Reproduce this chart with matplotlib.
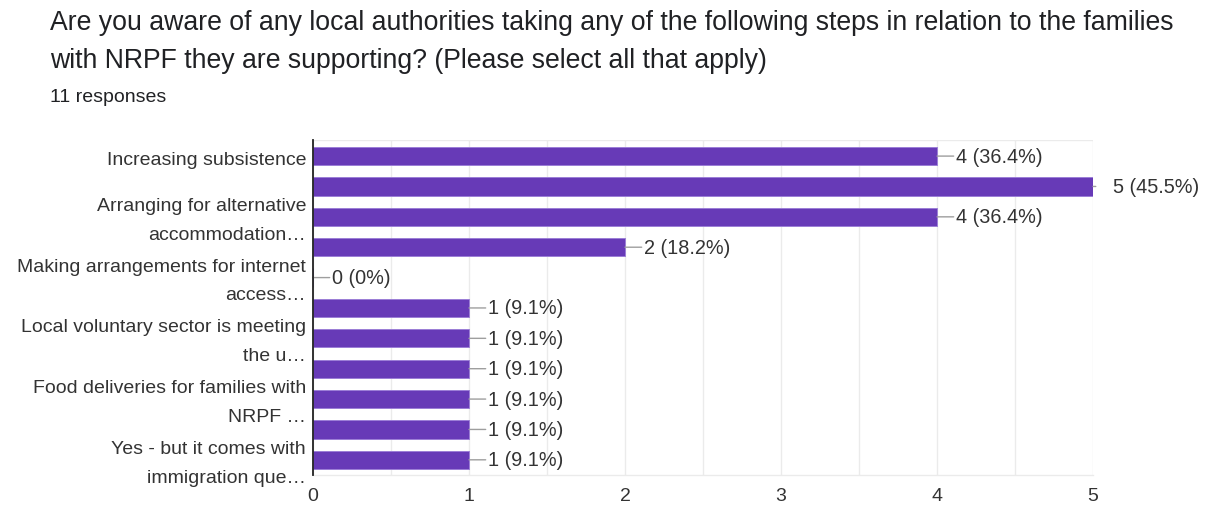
import matplotlib
matplotlib.use("Agg")
import matplotlib.pyplot as plt
import matplotlib.transforms as mtransforms
from matplotlib.ticker import MultipleLocator

plt.rcParams['font.family'] = ['Liberation Sans', 'DejaVu Sans']

title = ("Are you aware of any local authorities taking any of the following steps in relation to the families\n"
         "with NRPF they are supporting? (Please select all that apply)")
subtitle = "11 responses"
total = 11

categories = [
    "Increasing subsistence",
    "",
    "Arranging for alternative\naccommodation…",
    "",
    "Making arrangements for internet\naccess…",
    "",
    "Local voluntary sector is meeting\nthe u…",
    "",
    "Food deliveries for families with\nNRPF …",
    "",
    "Yes - but it comes with\nimmigration que…",
]
counts = [4, 5, 4, 2, 0, 1, 1, 1, 1, 1, 1]
xticks = [0, 1, 2, 3, 4, 5]

W, H = 1205, 506
fig = plt.figure(figsize=(W / 100, H / 100), dpi=100)
ax = fig.add_axes([313 / W, 1 - 476 / H, (1093 - 313) / W, (476 - 141) / H])

purple = "#673ab7"
txt = "#333333"
ypos = list(range(len(counts)))
ax.barh(ypos, counts, height=0.6, color=purple, edgecolor="#9c7fd6", linewidth=0.7, zorder=3)

ax.set_xlim(0, 5)
ax.set_ylim(len(counts) - 0.5, -0.53)
ax.set_xticks(xticks)
ax.set_xticklabels([str(v) for v in xticks])
ax.xaxis.set_minor_locator(MultipleLocator(0.5))
ax.grid(True, axis='x', which='both', color="#ebebeb", linewidth=1, zorder=0)
ax.set_yticks(ypos)
ax.set_yticklabels(categories, fontsize=14, color=txt, linespacing=1.9, va="center")
ax.tick_params(axis='y', length=0, pad=5)
ax.tick_params(axis='x', which='both', length=0, pad=9, labelsize=14, labelcolor=txt)
shift = mtransforms.ScaledTranslation(0, -3 / 100, fig.dpi_scale_trans)
for lab in ax.get_yticklabels():
    lab.set_transform(lab.get_transform() + shift)

for s in ['top', 'right']:
    ax.spines[s].set_visible(False)
ax.spines['bottom'].set_color("#ebebeb")
ax.spines['bottom'].set_linewidth(1)
ax.spines['left'].set_color("#222222")
ax.spines['left'].set_linewidth(1.3)
ax.spines['left'].set_zorder(5)

ax.axhline(-0.53, color="#ebebeb", linewidth=1, zorder=0)

vmax = max(counts)
for y, c in zip(ypos, counts):
    label = f"{c} ({c / total * 100:.1f}%)" if c else "0 (0%)"
    if c == vmax:
        ax.annotate("", xy=(c, y), xytext=(2, 0), textcoords="offset points",
                    arrowprops=dict(arrowstyle="-", color="#9e9e9e", lw=1, shrinkA=0, shrinkB=0))
        ax.annotate(label, xy=(c, y), xytext=(14.5, 0), textcoords="offset points",
                    va="center", ha="left", fontsize=14.3, color=txt, annotation_clip=False)
    else:
        ax.annotate(label, xy=(c, y), xytext=(14, 0), textcoords="offset points",
                    va="center", ha="left", fontsize=14.3, color=txt,
                    arrowprops=dict(arrowstyle="-", color="#9e9e9e", lw=1,
                                    shrinkA=0, shrinkB=0, relpos=(0, 0.5)))

fig.text(50 / W, 1 - 42 / H, title, fontsize=19.2, color="#202124", va="center", ha="left",
         linespacing=1.58)
fig.text(50 / W, 1 - 97 / H, subtitle, fontsize=14, color="#202124", va="center", ha="left")

fig.savefig("out.png", dpi=100)
